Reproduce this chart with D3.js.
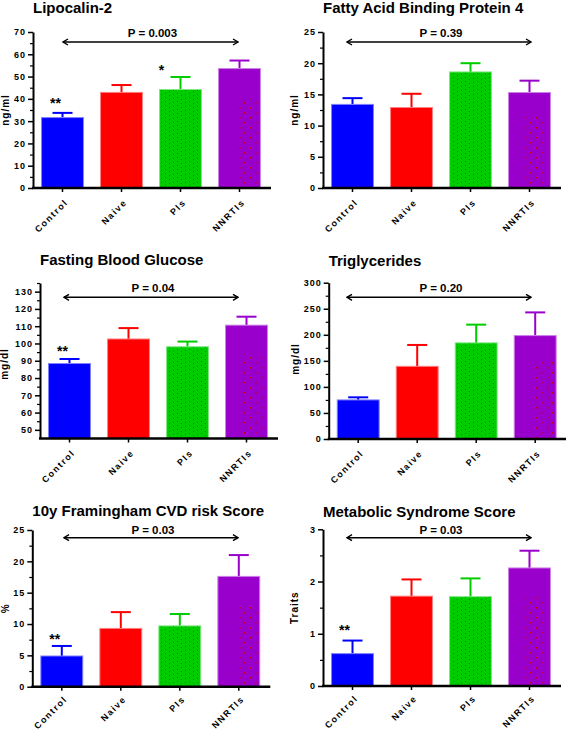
<!DOCTYPE html>
<html><head><meta charset="utf-8">
<script src="https://cdn.jsdelivr.net/npm/d3@7"></script>
<style>body{margin:0;background:#fff}svg{display:block}</style>
</head><body><svg id="c" width="566" height="731"></svg>
<script>
// ---------- DATA ----------
const categories = ["Control", "Naive", "PIs", "NNRTIs"];
const titles = ["Lipocalin-2", "Fatty Acid Binding Protein 4", "Fasting Blood Glucose",
                "Triglycerides", "10y Framingham CVD risk Score", "Metabolic Syndrome Score"];
const yLabels = ["ng/ml", "ng/ml", "mg/dl", "mg/dl", "%", "Traits"];
const pLabels = ["P = 0.003", "P = 0.39", "P = 0.04", "P = 0.20", "P = 0.03", "P = 0.03"];

const lipocalinMean = [31.6, 42.9, 44.2, 53.6];
const lipocalinSem  = [2.1, 3.3, 5.6, 3.6];
const fabp4Mean     = [13.4, 12.9, 18.6, 15.3];
const fabp4Sem      = [1.0, 2.2, 1.4, 1.9];
const glucoseMean   = [88.4, 102.6, 98.1, 110.6];
const glucoseSem    = [2.6, 6.3, 3.0, 4.9];
const trigMean      = [75, 139.5, 184.5, 198.5];
const trigSem       = [5, 41, 35, 44.5];
const framMean      = [4.9, 9.3, 9.7, 17.6];
const framSem       = [1.6, 2.6, 1.9, 3.4];
const metsMean      = [0.62, 1.72, 1.71, 2.26];
const metsSem       = [0.25, 0.32, 0.35, 0.33];

const means = [lipocalinMean, fabp4Mean, glucoseMean, trigMean, framMean, metsMean];
const sems  = [lipocalinSem, fabp4Sem, glucoseSem, trigSem, framSem, metsSem];

const yDomains = [[0, 70], [0, 25], [45, 135], [0, 300], [0, 25], [0, 3]];
const yMajorTicks = [
  [0, 10, 20, 30, 40, 50, 60, 70],
  [0, 5, 10, 15, 20, 25],
  [50, 60, 70, 80, 90, 100, 110, 120, 130],
  [0, 50, 100, 150, 200, 250, 300],
  [0, 5, 10, 15, 20, 25],
  [0, 1, 2, 3]
];
const yMinorTicks = [
  [5, 15, 25, 35, 45, 55, 65],
  [2.5, 7.5, 12.5, 17.5, 22.5],
  [55, 65, 75, 85, 95, 105, 115, 125, 135],
  [25, 75, 125, 175, 225, 275],
  [2.5, 7.5, 12.5, 17.5, 22.5],
  [0.5, 1.5, 2.5]
];
// significance stars: category, value (baseline), text
const stars = [
  [{cat: "Control", value: 35.9, text: "**"}, {cat: "PIs", value: 50.7, text: "*"}],
  [],
  [{cat: "Control", value: 93, text: "**"}],
  [],
  [{cat: "Control", value: 6.86, text: "**"}],
  [{cat: "Control", value: 0.98, text: "**"}]
];

// ---------- LAYOUT / STYLE ----------
const layout = [
  {x0: 33,    yTop: 32,    yBot: 188,   titleY: 12.5,  pY: 37.3,  arrowY: 42,    ax1: 63,  ax2: 238, lx: 8.5, xlDy: 15, starDx: [-7, -19]},
  {x0: 323,   yTop: 32,    yBot: 188,   titleY: 12.5,  pY: 37.3,  arrowY: 42,    ax1: 347, ax2: 531, lx: 298, xlDy: 15, starDx: []},
  {x0: 40,    yTop: 283,   yBot: 438.5, titleY: 265,   pY: 291.7, arrowY: 297.3, ax1: 64,  ax2: 238, lx: 8,   ly: 364, xlDy: 15, starDx: [-7]},
  {x0: 328.7, yTop: 282.7, yBot: 439,   titleY: 265.7, pY: 291.7, arrowY: 297.3, ax1: 347, ax2: 531, lx: 299, ly: 359, xlDy: 15, starDx: []},
  {x0: 32.3,  yTop: 530,   yBot: 686.7, titleY: 516,   pY: 534,   arrowY: 537.7, ax1: 64,  ax2: 238, lx: 8.5, xlDy: 13, starDx: [-7]},
  {x0: 323,   yTop: 529.3, yBot: 686,   titleY: 516.7, pY: 534,   arrowY: 537.7, ax1: 347, ax2: 531, lx: 298, xlDy: 13, starDx: [-8]}
];
const colors = ["#0000ff", "#ff0000", "#00cc00", "#9900cc"];
const edgeColors = ["#8080ff", "#ff8080", "#80e680", "#cc80e6"];
const FONT = "'Liberation Sans', Arial, Helvetica, sans-serif";

const svg = d3.select("#c");
svg.append("rect").attr("width", 566).attr("height", 731).attr("fill", "#fff");

const defs = svg.append("defs");
// green dotted pattern (slanted rows of purple dots)
const pg = defs.append("pattern").attr("id", "dotsGreen").attr("patternUnits", "userSpaceOnUse")
  .attr("width", 12).attr("height", 4);
pg.append("rect").attr("width", 12).attr("height", 4).attr("fill", colors[2]);
[[1, 3], [5, 2], [9, 1]].forEach(p =>
  pg.append("rect").attr("x", p[0]).attr("y", p[1]).attr("width", 1).attr("height", 1).attr("fill", "#8a2a9a"));
// sparse red dots on purple
const pp = defs.append("pattern").attr("id", "dotsRed").attr("patternUnits", "userSpaceOnUse")
  .attr("width", 11).attr("height", 10);
pp.append("rect").attr("x", 2).attr("y", 2).attr("width", 1.5).attr("height", 1.5).attr("fill", "#d00000");
pp.append("rect").attr("x", 8).attr("y", 7).attr("width", 1.5).attr("height", 1.5).attr("fill", "#d00000");
// arrow markers
["start", "end"].forEach(k => {
  const m = defs.append("marker").attr("id", "arr-" + k)
    .attr("viewBox", "0 0 8 8").attr("refX", k === "end" ? 7 : 1).attr("refY", 4)
    .attr("markerWidth", 8).attr("markerHeight", 8).attr("markerUnits", "userSpaceOnUse")
    .attr("orient", "auto");
  m.append("path").attr("d", k === "end" ? "M2,1 L7,4 L2,7" : "M6,1 L1,4 L6,7")
    .attr("fill", "none").attr("stroke", "#000").attr("stroke-width", 1.4);
});

layout.forEach((L, i) => {
  const g = svg.append("g");
  const y = d3.scaleLinear().domain(yDomains[i]).range([L.yBot, L.yTop]);
  const x = d3.scaleBand().domain(categories).range([L.x0, L.x0 + 236])
    .paddingInner(0.29).paddingOuter(0.145);
  const cx = c => x(c) + x.bandwidth() / 2;

  const data = categories.map((c, j) => ({c, j, m: means[i][j], s: sems[i][j]}));

  // error bars
  const eb = g.selectAll(".eb").data(data).enter().append("g");
  eb.append("line").attr("x1", d => cx(d.c)).attr("x2", d => cx(d.c))
    .attr("y1", d => y(d.m)).attr("y2", d => y(d.m + d.s))
    .attr("stroke", d => colors[d.j]).attr("stroke-width", 2);
  eb.append("line").attr("x1", d => cx(d.c) - 10).attr("x2", d => cx(d.c) + 10)
    .attr("y1", d => y(d.m + d.s)).attr("y2", d => y(d.m + d.s))
    .attr("stroke", d => colors[d.j]).attr("stroke-width", 2);

  // bars
  g.selectAll(".bar").data(data).enter().append("rect")
    .attr("x", d => x(d.c)).attr("width", x.bandwidth())
    .attr("y", d => y(d.m)).attr("height", d => y(yDomains[i][0]) - y(d.m))
    .attr("fill", d => d.j === 2 ? "url(#dotsGreen)" : colors[d.j])
    .attr("stroke", d => edgeColors[d.j]).attr("stroke-width", 1);
  // sparse red dots on NNRTIs bar (lower part)
  const dn = data[3];
  const hN = y(yDomains[i][0]) - y(dn.m);
  g.append("rect").attr("x", x(dn.c) + x.bandwidth() * 0.4).attr("width", x.bandwidth() * 0.55)
    .attr("y", y(yDomains[i][0]) - hN * 0.75).attr("height", hN * 0.75 - 1)
    .attr("fill", "url(#dotsRed)");

  // y axis
  const ya = g.append("g").attr("transform", `translate(${L.x0},0)`)
    .call(d3.axisLeft(y).tickValues(yMajorTicks[i]).tickSize(5).tickSizeOuter(0).tickPadding(2).tickFormat(d3.format("d")));
  ya.select(".domain").attr("stroke-width", 2);
  ya.selectAll(".tick line").attr("stroke-width", 1.5);
  ya.selectAll(".tick text").attr("font-family", FONT).attr("font-size", 9).attr("font-weight", "bold")
    .attr("letter-spacing", 1).attr("fill", "#000");
  const ym = g.append("g").attr("transform", `translate(${L.x0},0)`)
    .call(d3.axisLeft(y).tickValues(yMinorTicks[i]).tickSize(3).tickSizeOuter(0).tickFormat(""));
  ym.select(".domain").remove();
  ym.selectAll(".tick line").attr("stroke-width", 1.2);

  // x axis
  g.append("line").attr("x1", L.x0 - 1).attr("x2", L.x0 + 238).attr("y1", L.yBot).attr("y2", L.yBot)
    .attr("stroke", "#000").attr("stroke-width", 2.5);
  g.selectAll(".xt").data(categories).enter().append("line")
    .attr("x1", cx).attr("x2", cx).attr("y1", L.yBot).attr("y2", L.yBot + 4)
    .attr("stroke", "#000").attr("stroke-width", 1.5);
  g.selectAll(".xl").data(categories).enter().append("text")
    .attr("transform", c => `translate(${cx(c) + 6},${L.yBot + L.xlDy}) rotate(-45)`)
    .attr("text-anchor", "end").attr("font-family", FONT).attr("font-size", 9)
    .attr("font-weight", "bold").attr("letter-spacing", 1.5).text(c => c);

  // title
  g.append("text").attr("x", L.x0).attr("y", L.titleY).attr("font-family", FONT)
    .attr("font-size", 15).attr("font-weight", "bold").text(titles[i]);

  // y label
  const ly = L.ly !== undefined ? L.ly : (L.yTop + L.yBot) / 2;
  g.append("text").attr("transform", `translate(${L.lx},${ly}) rotate(-90)`)
    .attr("text-anchor", "middle").attr("font-family", FONT).attr("font-size", 10)
    .attr("font-weight", "bold").attr("letter-spacing", 1).text(yLabels[i]);

  // P value + arrow
  g.append("line").attr("x1", L.ax1).attr("x2", L.ax2).attr("y1", L.arrowY).attr("y2", L.arrowY)
    .attr("stroke", "#000").attr("stroke-width", 1.4)
    .attr("marker-start", "url(#arr-start)").attr("marker-end", "url(#arr-end)");
  g.append("text").attr("x", (L.ax1 + L.ax2) / 2 + 2).attr("y", L.pY).attr("text-anchor", "middle")
    .attr("font-family", FONT).attr("font-size", 11.5).attr("font-weight", "bold").text(pLabels[i]);

  // stars
  stars[i].forEach((s, k) => {
    g.append("text").attr("x", cx(s.cat) + L.starDx[k]).attr("y", y(s.value))
      .attr("text-anchor", "middle").attr("font-family", FONT).attr("font-size", 14)
      .attr("font-weight", "bold").text(s.text);
  });
});
</script></body></html>
